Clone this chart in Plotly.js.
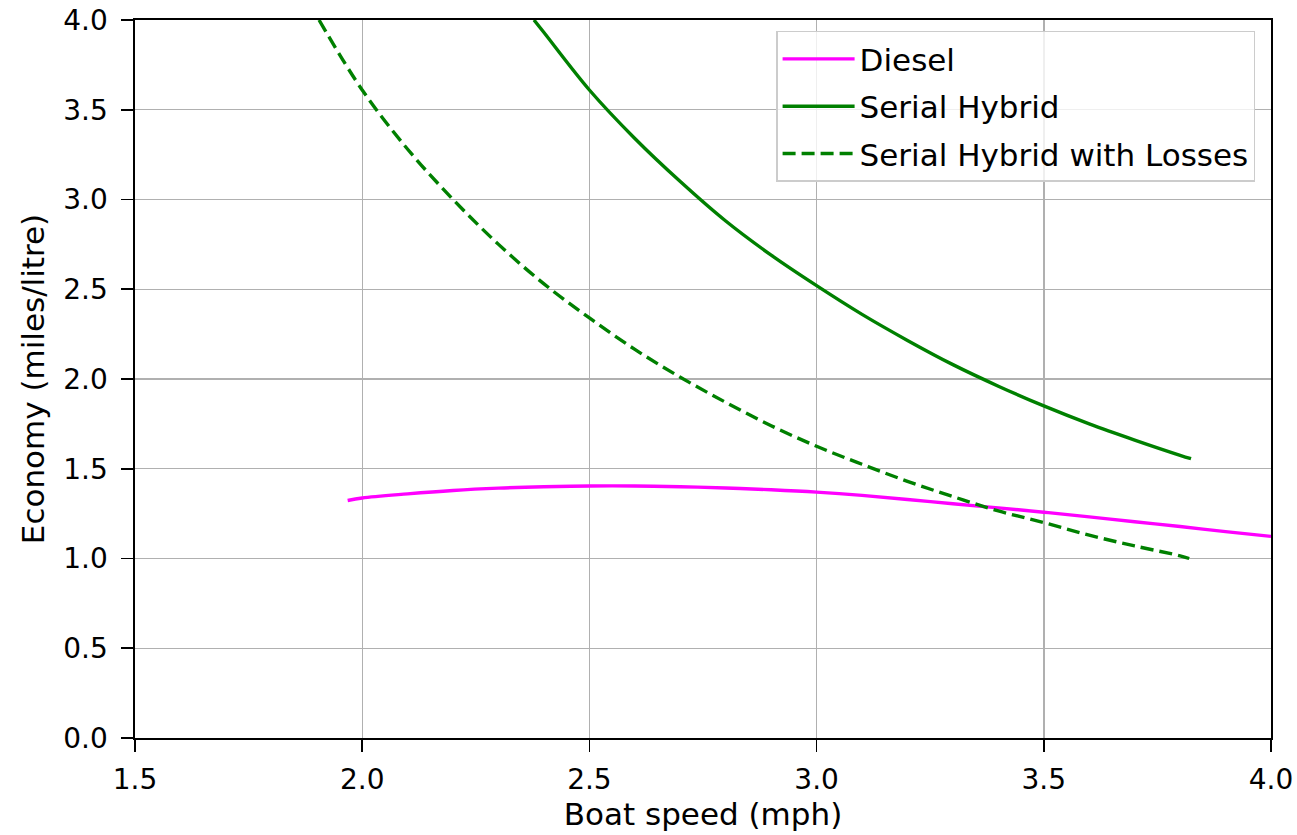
<!DOCTYPE html>
<html>
<head>
<meta charset="utf-8">
<script src="https://cdn.plot.ly/plotly-3.0.1.min.js"></script>
<style>
  html, body { margin: 0; padding: 0; background: #ffffff; }
  #chart { width: 1297px; height: 835px; }
</style>
</head>
<body>
<div id="chart"></div>
<script>
// Boat speed (mph) and economy (miles/litre)
const speedDiesel = [1.968, 2.0, 2.1, 2.2, 2.3, 2.4, 2.5, 2.6, 2.7, 2.8, 2.9, 3.0, 3.1, 3.2, 3.3, 3.4, 3.5, 3.6, 3.7, 3.8, 3.9, 4.0];
const economyDiesel = [1.323, 1.337, 1.360, 1.379, 1.392, 1.400, 1.404, 1.404, 1.400, 1.393, 1.383, 1.370, 1.352, 1.329, 1.305, 1.282, 1.258, 1.232, 1.205, 1.178, 1.150, 1.123];

const speedHybrid = [2.378, 2.4, 2.5, 2.6, 2.7, 2.8, 2.9, 3.0, 3.1, 3.2, 3.3, 3.4, 3.5, 3.6, 3.7, 3.8, 3.824];
const economyHybrid = [4.00, 3.93, 3.61, 3.34, 3.10, 2.88, 2.69, 2.52, 2.36, 2.215, 2.08, 1.96, 1.85, 1.75, 1.66, 1.575, 1.556];

const speedLosses = [1.905, 2.0, 2.1, 2.2, 2.3, 2.4, 2.5, 2.6, 2.7, 2.8, 2.9, 3.0, 3.1, 3.2, 3.3, 3.4, 3.5, 3.6, 3.7, 3.8, 3.82];
const economyLosses = [4.00, 3.61, 3.28, 3.00, 2.75, 2.53, 2.34, 2.165, 2.01, 1.87, 1.74, 1.625, 1.525, 1.43, 1.345, 1.265, 1.20, 1.13, 1.07, 1.015, 1.00];

const seriesNames = ['Diesel', 'Serial Hybrid', 'Serial Hybrid with Losses'];
const xTicks = [1.5, 2.0, 2.5, 3.0, 3.5, 4.0];
const yTicks = [0.0, 0.5, 1.0, 1.5, 2.0, 2.5, 3.0, 3.5, 4.0];
const xTitle = 'Boat speed (mph)';
const yTitle = 'Economy (miles/litre)';

const traces = [
  { x: speedDiesel, y: economyDiesel, name: seriesNames[0], legendgroup: 'a', type: 'scatter', mode: 'lines',
    line: { color: '#ff00ff', width: 3.4, shape: 'spline' } },
  { x: speedHybrid, y: economyHybrid, name: seriesNames[1], legendgroup: 'b', type: 'scatter', mode: 'lines',
    line: { color: '#008000', width: 3.4, shape: 'spline' } },
  { x: speedLosses, y: economyLosses, name: seriesNames[2], legendgroup: 'c', type: 'scatter', mode: 'lines',
    line: { color: '#008000', width: 3.4, shape: 'spline', dash: '13px,6px' } }
];

const axisCommon = {
  showline: true, linecolor: '#000000', linewidth: 1.6, mirror: true,
  showgrid: true, gridcolor: '#b0b0b0', gridwidth: 1.4,
  zeroline: false,
  ticks: 'outside', ticklen: 12, tickwidth: 1.6, tickcolor: '#000000',
  tickfont: { family: 'DejaVu Sans', size: 28, color: '#000000' },
  tickformat: '.1f', automargin: false
};

const layout = {
  width: 1297, height: 835,
  margin: { l: 135, r: 26, t: 20, b: 97 },
  paper_bgcolor: '#ffffff', plot_bgcolor: '#ffffff',
  font: { family: 'DejaVu Sans', size: 28, color: '#000000' },
  showlegend: true,
  legend: {
    x: 0.986, y: 0.985, xanchor: 'right', yanchor: 'top',
    bgcolor: 'rgba(255,255,255,0.8)', bordercolor: '#cccccc', borderwidth: 1.5,
    font: { family: 'DejaVu Sans', size: 31, color: '#000000' },
    itemwidth: 72, tracegroupgap: 4, traceorder: 'grouped'
  },
  xaxis: Object.assign({}, axisCommon, {
    range: [1.5, 4.0], tickvals: xTicks, ticklabelstandoff: 4,
    title: { text: xTitle, font: { family: 'DejaVu Sans', size: 31, color: '#000000' }, standoff: 7 }
  }),
  yaxis: Object.assign({}, axisCommon, {
    range: [0, 4.0], tickvals: yTicks, ticklabelstandoff: 8,
    title: { text: yTitle, font: { family: 'DejaVu Sans', size: 31, color: '#000000' }, standoff: 9 }
  })
};

Plotly.newPlot('chart', traces, layout, { displayModeBar: false, staticPlot: true });
</script>
</body>
</html>
